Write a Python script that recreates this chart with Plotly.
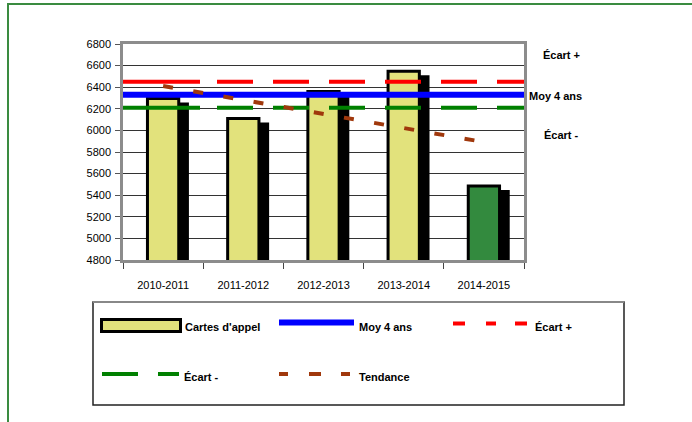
import plotly.graph_objects as go

# ---------------- data ----------------
categories = ["2010-2011", "2011-2012", "2012-2013", "2013-2014", "2014-2015"]
cartes_appel = [6295, 6110, 6360, 6548, 5486]
moy_4_ans = 6330
ecart_plus = 6450
ecart_moins = 6210
tendance_start = 6411   # value of the trend at the first category
tendance_end = 5892     # value of the trend at the last category
y_ticks = [4800, 5000, 5200, 5400, 5600, 5800, 6000, 6200, 6400, 6600, 6800]
series_names = ["Cartes d'appel", "Moy 4 ans", "Écart +", "Écart -", "Tendance"]

# ---------------- layout helpers ----------------
W, H = 692, 422
L, R, T, B = 123, 168, 44, 162
PW = W - L - R
PH = H - T - B
YMIN, YMAX = y_ticks[0], y_ticks[-1]


def px(x):
    return (x - L) / PW


def py(y):
    return 1 - (y - T) / PH


units_per_px = (YMAX - YMIN) / PH
shadow_drop = 4 * units_per_px

FONT = "Liberation Sans, Arial, sans-serif"
YELLOW = "#E2E27C"
DKGREEN = "#338A3E"
RED = "#FF0000"
BLUE = "#0000FF"
GREEN = "#008000"
BROWN = "#A0380C"
FRAME = "#3A8B40"
AXIS = "#8C8C8C"

xs = list(range(len(categories)))
bar_colors = [YELLOW] * (len(categories) - 1) + [DKGREEN]
xspan = [-0.5, len(categories) - 0.5]
long_dash = "77px,17px" + ",36px,20px" * 6

fig = go.Figure()

# shadow of the bars
fig.add_trace(go.Bar(
    x=xs, y=[v - shadow_drop for v in cartes_appel], width=0.425, offset=-0.103,
    marker=dict(color="black", line=dict(width=0)), showlegend=False, hoverinfo="skip"))
# bars
fig.add_trace(go.Bar(
    x=xs, y=cartes_appel, width=0.39, offset=-0.195, name=series_names[0],
    marker=dict(color=bar_colors, line=dict(color="black", width=3)), showlegend=False))

# reference lines
fig.add_trace(go.Scatter(x=xspan, y=[ecart_plus] * 2, mode="lines", name=series_names[2],
                         line=dict(color=RED, width=4, dash=long_dash), showlegend=False))
fig.add_trace(go.Scatter(x=xspan, y=[ecart_moins] * 2, mode="lines", name=series_names[3],
                         line=dict(color=GREEN, width=4, dash=long_dash), showlegend=False))
fig.add_trace(go.Scatter(x=xspan, y=[moy_4_ans] * 2, mode="lines", name=series_names[1],
                         line=dict(color=BLUE, width=6), showlegend=False))
# trend
fig.add_trace(go.Scatter(x=[xs[0], xs[-1]], y=[tendance_start, tendance_end], mode="lines",
                         name=series_names[4],
                         line=dict(color=BROWN, width=4, dash="10px,20.6px"), showlegend=False))

fig.update_layout(
    width=W, height=H, margin=dict(l=L, r=R, t=T, b=B, pad=0),
    paper_bgcolor="white", plot_bgcolor="white", barmode="overlay",
    font=dict(family=FONT, size=11, color="black"),
    showlegend=False,
)

fig.update_xaxes(
    range=xspan, tickmode="array", tickvals=xs, ticktext=categories, ticks="",
    showgrid=False, zeroline=False, showline=True, linecolor=AXIS, linewidth=2.5, mirror=True,
    ticklabelstandoff=13, tickfont=dict(family=FONT, size=11, color="black"),
    minor=dict(tickmode="array", tickvals=[i - 0.5 for i in range(len(categories) + 1)],
               ticks="outside", ticklen=6, tickwidth=1, tickcolor="#444", showgrid=False),
)
fig.update_yaxes(
    range=[YMIN, YMAX], tickmode="array", tickvals=y_ticks, ticktext=[str(v) for v in y_ticks],
    ticks="outside", ticklen=5, tickwidth=1, tickcolor="#555",
    showgrid=True, gridcolor="#333333", gridwidth=1, zeroline=False,
    showline=True, linecolor=AXIS, linewidth=2.5, mirror=True,
    ticklabelstandoff=2, tickfont=dict(family=FONT, size=11, color="black"),
)

shapes = []
# green outer frame (top and left)
shapes.append(dict(type="line", xref="paper", yref="paper", x0=px(7), x1=px(692), y0=py(4), y1=py(4),
                   line=dict(color=FRAME, width=2)))
shapes.append(dict(type="line", xref="paper", yref="paper", x0=px(8), x1=px(8), y0=py(4), y1=py(422),
                   line=dict(color=FRAME, width=2)))
# legend box
shapes.append(dict(type="rect", xref="paper", yref="paper", x0=px(93), x1=px(624), y0=py(302), y1=py(405),
                   line=dict(color="#222", width=1.5), fillcolor="rgba(0,0,0,0)"))
shapes.append(dict(type="line", xref="paper", yref="paper", x0=px(93), x1=px(624), y0=py(302), y1=py(302),
                   line=dict(color="#888", width=2)))
# legend swatches
shapes.append(dict(type="rect", xref="paper", yref="paper", x0=px(101.5), x1=px(180.5), y0=py(319.5), y1=py(331.5),
                   line=dict(color="black", width=3), fillcolor=YELLOW))
shapes.append(dict(type="line", xref="paper", yref="paper", x0=px(279), x1=px(354), y0=py(322.5), y1=py(322.5),
                   line=dict(color=BLUE, width=6)))
for a, b in [(453, 465), (486, 496), (515, 527)]:
    shapes.append(dict(type="line", xref="paper", yref="paper", x0=px(a), x1=px(b), y0=py(323.5), y1=py(323.5),
                       line=dict(color=RED, width=4)))
for a, b in [(102, 138), (158, 179)]:
    shapes.append(dict(type="line", xref="paper", yref="paper", x0=px(a), x1=px(b), y0=py(374), y1=py(374),
                       line=dict(color=GREEN, width=4)))
for a, b in [(279, 288), (309, 321), (341, 350)]:
    shapes.append(dict(type="line", xref="paper", yref="paper", x0=px(a), x1=px(b), y0=py(374), y1=py(374),
                       line=dict(color=BROWN, width=4)))

annotations = []


def label(text, x, y, bold=True):
    annotations.append(dict(text=f"<b>{text}</b>" if bold else text, xref="paper", yref="paper",
                            x=px(x), y=py(y), xanchor="left", yanchor="middle", showarrow=False,
                            font=dict(family=FONT, size=11, color="black")))


# right-hand labels
label(series_names[2], 541, 55)
label(series_names[1], 527, 95.5)
label(series_names[3], 542, 135)
# legend texts
label(series_names[0], 183, 327)
label(series_names[1], 357, 327)
label(series_names[2], 533, 327)
label(series_names[3], 182, 377)
label(series_names[4], 357, 377)

fig.update_layout(shapes=shapes, annotations=annotations)

fig.write_html("out.html", config={"displayModeBar": False},
               post_script="document.body.style.margin='0';document.body.style.overflow='hidden';")
